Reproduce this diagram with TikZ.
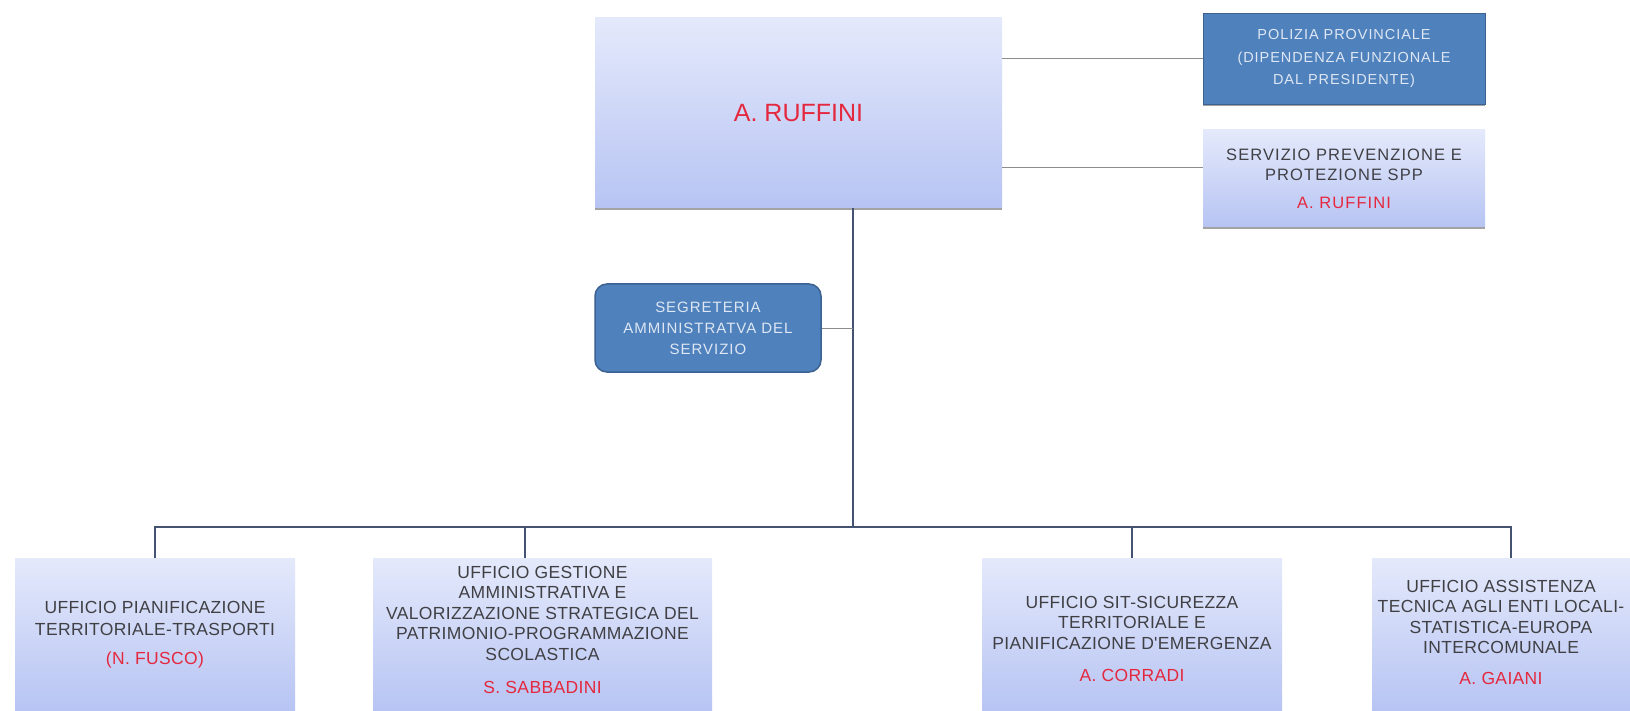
\documentclass[tikz,border=0pt]{standalone}
\usepackage{fontspec}
\setmainfont{Liberation Sans}
\newfontfamily\spacedsf[LetterSpace=2]{Liberation Sans}
\newfontfamily\widesf[LetterSpace=6.5]{Liberation Sans}
\usetikzlibrary{positioning, calc, shadows}

\definecolor{boxtop}{RGB}{228,233,251}
\definecolor{boxbot}{RGB}{183,196,243}
\definecolor{chiefblue}{RGB}{79,129,189}
\definecolor{blueborder}{RGB}{60,98,145}
\definecolor{lighttext}{RGB}{222,231,243}
\definecolor{nametext}{RGB}{228,40,62}
\definecolor{bodytext}{RGB}{64,64,68}
\definecolor{treeline}{RGB}{68,84,112}

\newcommand{\who}[1]{{\color{nametext}#1}}
\newcommand{\uffbody}[3]{\parbox[c][153pt][t]{#1}{\centering\vspace*{#2}#3}}

\begin{document}
\begin{tikzpicture}[x=1pt, y=-1pt,
        chief/.style={rectangle, top color=boxtop, bottom color=boxbot, minimum width=407pt, minimum height=190pt, text=nametext, font=\fontsize{25pt}{30pt}\selectfont, drop shadow={shadow xshift=0pt, shadow yshift=-2pt, fill=black!60, opacity=0.6}},
        staff/.style={rectangle, top color=boxtop, bottom color=boxbot, minimum width=282pt, minimum height=97pt, align=center, text=bodytext, font=\widesf\fontsize{16.5pt}{20pt}\selectfont, drop shadow={shadow xshift=0pt, shadow yshift=-2pt, fill=black!60, opacity=0.6}},
        police/.style={rectangle, fill=chiefblue, draw=blueborder, minimum width=282pt, minimum height=91pt, align=center, text=lighttext, font=\widesf\fontsize{14.5pt}{22.5pt}\selectfont, drop shadow={shadow xshift=0pt, shadow yshift=-2pt, fill=black!60, opacity=0.6}},
        secr/.style={rectangle, rounded corners=12pt, fill=chiefblue, draw=blueborder, line width=1.5pt, minimum width=226pt, minimum height=88pt, align=center, text=lighttext, font=\widesf\fontsize{15pt}{21pt}\selectfont},
        office/.style={rectangle, top color=boxtop, bottom color=boxbot, inner sep=0pt, anchor=north, text=bodytext, font=\spacedsf\fontsize{17.5pt}{20.5pt}\selectfont},
        tree/.style={draw=treeline, line width=2.5pt},
        side/.style={draw=black!45, line width=1pt}
    ]
        \useasboundingbox[fill=white] (0,0) rectangle (1630,711);

        % Head of service
        \node[chief] (ruffini) at (798.5,113) {A. RUFFINI};

        % Staff boxes on the right
        \node[police] (polizia) at (1344,58.5) {POLIZIA PROVINCIALE\\(DIPENDENZA FUNZIONALE\\DAL PRESIDENTE)};
        \node[staff] (spp) at (1344,178.5) {SERVIZIO PREVENZIONE E\\PROTEZIONE SPP\\[8pt]\who{A. RUFFINI}};

        % Secretariat
        \node[secr] (segr) at (708,328) {SEGRETERIA\\AMMINISTRATVA DEL\\SERVIZIO};

        % Offices
        \node[office, font=\spacedsf\fontsize{17.5pt}{22pt}\selectfont] (uff1) at (155,558) {\uffbody{280pt}{43pt}{UFFICIO PIANIFICAZIONE\\TERRITORIALE-TRASPORTI\\[7pt]\who{(N. FUSCO)}}};
        \node[office] (uff2) at (542.5,558) {\uffbody{339pt}{8pt}{UFFICIO GESTIONE\\AMMINISTRATIVA E\\VALORIZZAZIONE STRATEGICA DEL\\PATRIMONIO-PROGRAMMAZIONE\\SCOLASTICA\\[13pt]\who{S. SABBADINI}}};
        \node[office] (uff3) at (1132,558) {\uffbody{300pt}{38pt}{UFFICIO SIT-SICUREZZA\\TERRITORIALE E\\PIANIFICAZIONE D'EMERGENZA\\[12pt]\who{A. CORRADI}}};
        \node[office] (uff4) at (1501,558) {\uffbody{258pt}{22pt}{UFFICIO ASSISTENZA\\TECNICA AGLI ENTI LOCALI-\\STATISTICA-EUROPA\\INTERCOMUNALE\\[10pt]\who{A. GAIANI}}};

        % Tree
        \coordinate (hub) at (853,527);
        \coordinate (stem2) at ([xshift=-17.5pt]uff2.north);
        \coordinate (stem4) at ([xshift=10pt]uff4.north);
        \draw[tree] (hub |- ruffini.south) -- (hub);
        \draw[tree] (uff1.north) |- (hub) -| (stem4);
        \draw[tree] (stem2) -- (stem2 |- hub);
        \draw[tree] (uff3.north) -- (uff3.north |- hub);

        % Side links
        \coordinate (sppin) at ([yshift=10.5pt]spp.west);
        \draw[side] (polizia.west) -- (polizia.west -| ruffini.east);
        \draw[side] (sppin) -- (sppin -| ruffini.east);
        \draw[side] (segr.east) -- (segr.east -| hub);
    \end{tikzpicture}
\end{document}
